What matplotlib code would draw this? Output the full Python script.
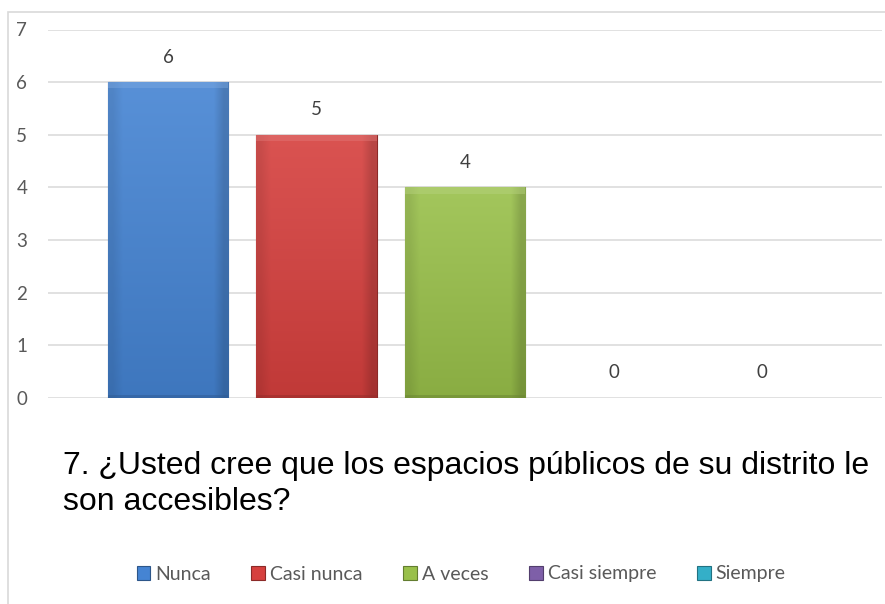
import numpy as np
import matplotlib
matplotlib.use("Agg")
import matplotlib.pyplot as plt
from matplotlib.patches import Rectangle, Patch
from matplotlib.colors import to_rgb

# Data
categories = ["Nunca", "Casi nunca", "A veces", "Casi siempre", "Siempre"]
values = [6, 5, 4, 0, 0]
bar_colors = ["#4584D3", "#D6403E", "#99C04A", "#7E5FA8", "#34AFC8"]
y_ticks = [0, 1, 2, 3, 4, 5, 6, 7]
title = "7. ¿Usted cree que los espacios públicos de su distrito le\nson accesibles?"

W, H = 885, 604
fig = plt.figure(figsize=(W / 100, H / 100), dpi=100)

# Chart border (light gray frame, cropped on the right)
fig.patches.append(Rectangle((8 / W, -0.01), 1.0, (H - 12) / H + 0.01,
                             transform=fig.transFigure, fill=False,
                             edgecolor="#D9D9D9", linewidth=1.2))

ax = fig.add_axes([48 / W, (H - 398) / H, (882 - 48) / W, (398 - 29.5) / H])

x = np.arange(len(categories))
bar_w = 0.81


def shade(color, f):
    r, g, b = to_rgb(color)
    if f >= 0:
        return (r + (1 - r) * f, g + (1 - g) * f, b + (1 - b) * f)
    return (r * (1 + f), g * (1 + f), b * (1 + f))


for xi, v, c in zip(x, values, bar_colors):
    if v <= 0:
        continue
    bar = ax.bar(xi, v, width=bar_w, color=c, edgecolor=shade(c, -0.35),
                 linewidth=0.8, zorder=3)[0]
    # vertical gradient, lighter at top
    n = 64
    top = np.array(shade(c, 0.1))
    bot = np.array(shade(c, -0.1))
    t = np.linspace(0, 1, n)[:, None]
    grad = top * (1 - t) + bot * t
    img = np.repeat(grad[:, None, :], 12, axis=1)
    # slightly darker side edges
    edge = np.ones(12)
    edge[0] = 0.92
    edge[-1] = 0.85
    img = img * edge[None, :, None]
    im = ax.imshow(img, extent=(xi - bar_w / 2, xi + bar_w / 2, 0, v),
                   aspect="auto", origin="upper", zorder=3.5,
                   interpolation="bilinear")
    im.set_clip_path(bar)
    # bevel highlight along the top
    ax.fill_between([xi - bar_w / 2, xi + bar_w / 2], v - 0.12, v,
                    color=shade(c, 0.3), alpha=0.45, zorder=4, linewidth=0)
    ax.fill_between([xi - bar_w / 2, xi + bar_w / 2], 0, 0.06,
                    color=shade(c, -0.3), alpha=0.5, zorder=4, linewidth=0)

for xi, v in zip(x, values):
    ax.annotate(str(v), (xi, v), xytext=(0, 18), textcoords="offset points",
                ha="center", va="center", fontsize=13.5, color="#404040",
                family="Lato")

ax.set_xlim(-0.808, len(categories) - 1 + 0.808)
ax.set_ylim(0, 7)
ax.set_yticks(y_ticks)
ax.set_xticks([])
ax.yaxis.grid(True, color="#D9D9D9", linewidth=1.1)
ax.set_axisbelow(True)
for s in ax.spines.values():
    s.set_visible(False)
ax.tick_params(axis="y", length=0, pad=15, labelsize=13.5, labelcolor="#595959")
for lab in ax.get_yticklabels():
    lab.set_family("Lato")

# title sits below the plot; anchor on the baseline of the last line
fig.text(63 / W, (H - 510) / H, title, fontsize=23, family="Liberation Sans",
         color="#000000", ha="left", va="baseline", linespacing=1.26)

handles = [Patch(facecolor=c, edgecolor=shade(c, -0.35), linewidth=0.8)
           for c in bar_colors]
fig.legend(handles, categories, loc="center", ncol=5,
           bbox_to_anchor=(461 / W, (H - 574) / H), frameon=False,
           prop={"family": "Lato", "size": 14}, labelcolor="#595959",
           handlelength=0.7, handleheight=0.7, handletextpad=0.25,
           columnspacing=2.1)

fig.savefig("out.png", dpi=100)
